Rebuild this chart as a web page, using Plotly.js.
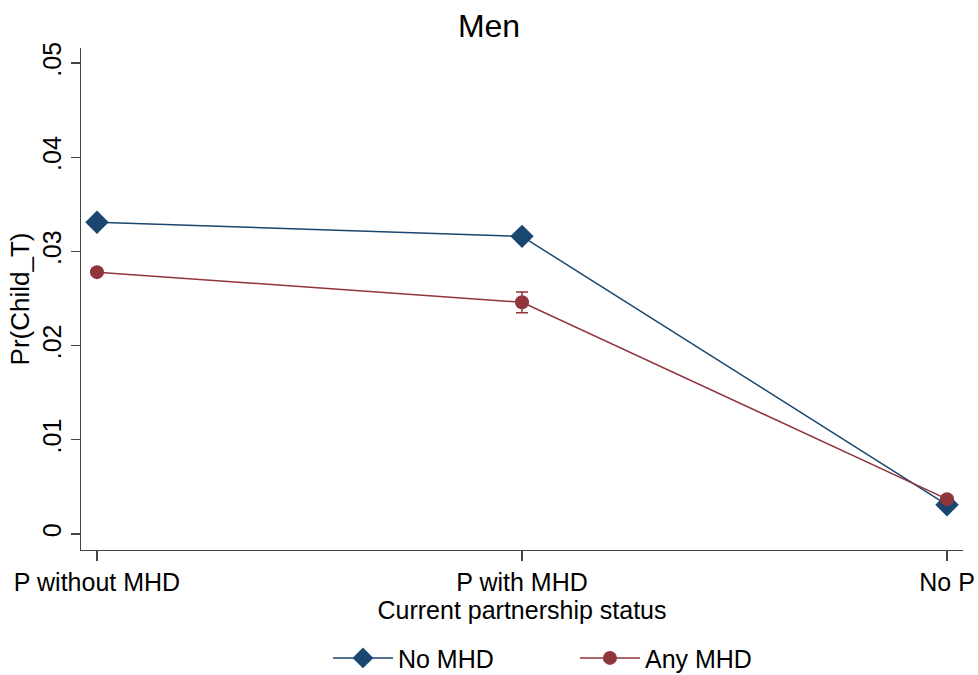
<!DOCTYPE html>
<html>
<head>
<meta charset="utf-8">
<script src="https://cdn.plot.ly/plotly-3.0.1.min.js"></script>
<style>html,body{margin:0;padding:0;background:#fff}#chart{width:978px;height:675px}</style>
</head>
<body>
<div id="chart"></div>
<script>
var categories = ["P without MHD", "P with MHD", "No P"];
var noMHD = [0.0331, 0.0316, 0.0031];
var noMHDerr = [0.0003, 0.0004, 0.0003];
var anyMHD = [0.0278, 0.0246, 0.0037];
var anyMHDerr = [0.0003, 0.0011, 0.0003];
var yTickVals = [0, 0.01, 0.02, 0.03, 0.04, 0.05];
var yTickText = ["0", ".01", ".02", ".03", ".04", ".05"];

var xIdx = categories.map(function(c, i){ return i; });

var traces = [
  {
    x: xIdx, y: noMHD, name: "No MHD", type: "scatter", mode: "lines+markers",
    line: {color: "#1a476f", width: 1.5},
    marker: {symbol: "diamond", size: 18, color: "#1a476f"},
    error_y: {type: "data", array: noMHDerr, visible: true, color: "#1a476f", thickness: 1.5, width: 6}
  },
  {
    x: xIdx, y: anyMHD, name: "Any MHD", type: "scatter", mode: "lines+markers",
    line: {color: "#90353b", width: 1.5},
    marker: {symbol: "circle", size: 14, color: "#90353b"},
    error_y: {type: "data", array: anyMHDerr, visible: true, color: "#90353b", thickness: 1.5, width: 6}
  }
];

var layout = {
  width: 978, height: 675,
  paper_bgcolor: "#ffffff", plot_bgcolor: "#ffffff",
  font: {family: "Liberation Sans, Arial, sans-serif", color: "#000", size: 25},
  margin: {l: 81, r: 15, t: 48, b: 125, autoexpand: false},
  title: {text: "Men", x: 0.5, xanchor: "center", y: 0.962, yanchor: "middle", font: {size: 32, color: "#000"}},
  showlegend: true,
  legend: {orientation: "h", x: 0.28, xanchor: "left", yref: "container", y: 0.025, yanchor: "middle",
           font: {size: 25}, itemwidth: 60, entrywidth: 172, entrywidthmode: "pixels"},
  xaxis: {
    automargin: false,
    range: [-0.0376, 2.0376], tickmode: "array", tickvals: xIdx, ticktext: categories,
    showgrid: false, zeroline: false, showline: true, linecolor: "#444", linewidth: 1.3,
    ticks: "outside", ticklen: 10, tickcolor: "#444", tickwidth: 1.3, tickfont: {size: 25},
    title: {text: "Current partnership status", font: {size: 25}, standoff: 2}
  },
  yaxis: {
    automargin: false,
    range: [-0.0017, 0.0516], tickmode: "array", tickvals: yTickVals, ticktext: yTickText,
    tickangle: -90, showgrid: false, zeroline: false, showline: true, linecolor: "#444", linewidth: 1.3,
    ticks: "outside", ticklen: 9, tickcolor: "#444", tickwidth: 1.3, tickfont: {size: 25},
    title: {text: "Pr(Child_T)", font: {size: 26}, standoff: 0}
  }
};

Plotly.newPlot("chart", traces, layout, {displayModeBar: false, staticPlot: true});
</script>
</body>
</html>
